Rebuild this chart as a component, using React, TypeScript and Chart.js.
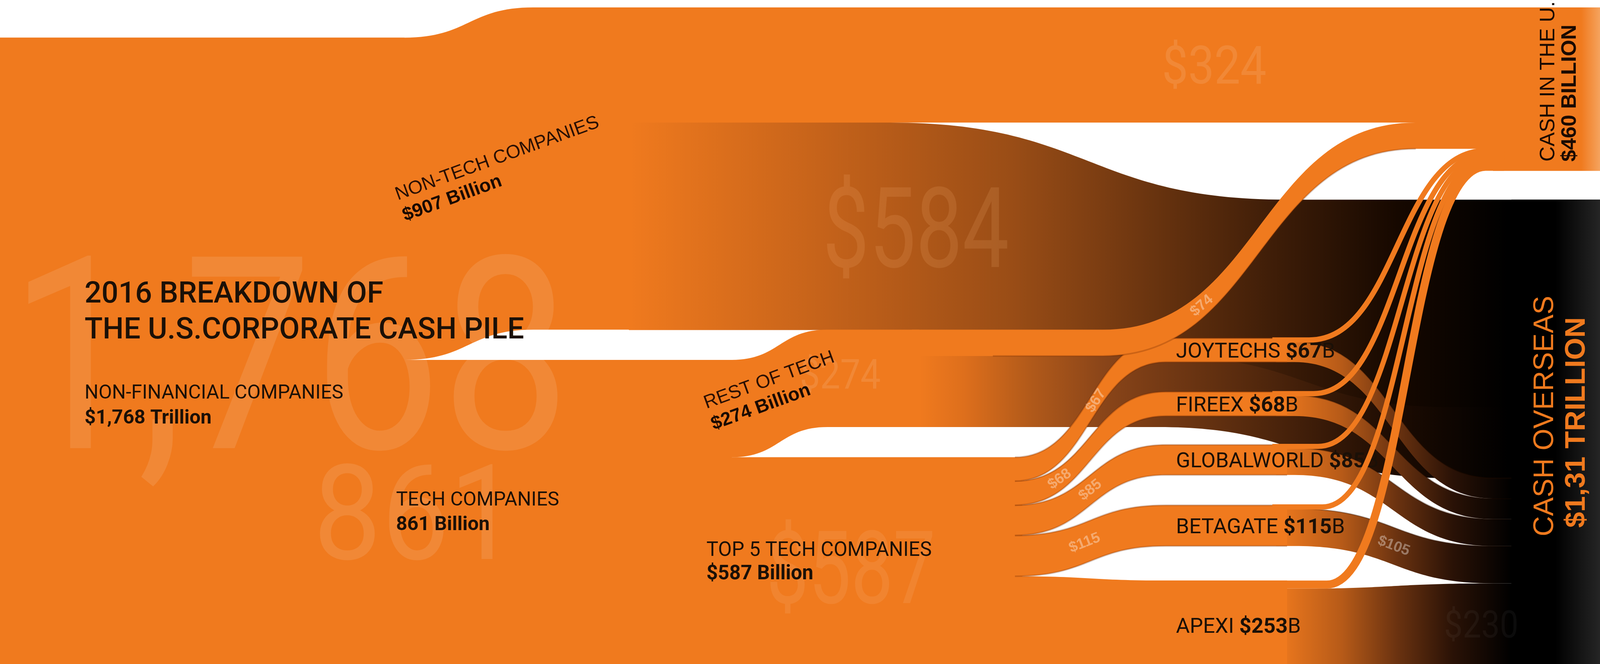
import React, { useEffect, useRef, useState } from "react";
import { Chart, registerables } from "chart.js";

Chart.register(...registerables);

// ---------------- DATA (billions of US$) ----------------
const titleLines = ["2016 BREAKDOWN OF", "THE U.S.CORPORATE CASH PILE"];
const rootName = "NON-FINANCIAL COMPANIES";
const rootValue = 1768;
const rootLabel = "$1,768 Trillion";
const rootBigLabel = "1,768";
const sectorNames = ["NON-TECH COMPANIES", "TECH COMPANIES"];
const sectorValues = [907, 861];
const sectorLabels = ["$907 Billion", "861 Billion"];
const sectorBigLabels = ["$584", "861"];
const nonTechFlows = [324, 584]; // to U.S., to overseas
const nonTechFlowLabels = ["$324", "$584"];
const techGroupNames = ["REST OF TECH", "TOP 5 TECH COMPANIES"];
const techGroupValues = [274, 587];
const techGroupLabels = ["$274 Billion", "$587 Billion"];
const techGroupBigLabels = ["$274", "$587"];
const restOfTechFlows = [74, 200]; // to U.S., to overseas
const restOfTechFlowLabels = ["$74", "$200"];
const companyNames = ["JOYTECHS", "FIREEX", "GLOBALWORLD", "BETAGATE", "APEXI"];
const companyCash = [67, 68, 85, 115, 253];
const companyCashLabels = ["$67", "$68", "$85", "$115", "$253"];
const companyToUS = [10, 10, 9, 10, 23];
const companyToOverseas = [57, 58, 76, 105, 230];
const companyOverseasLabels = ["", "", "", "$105", "$230"];
const destinationNames = ["CASH IN THE U.S.", "CASH OVERSEAS"];
const destinationValues = [460, 1310];
const destinationLabels = ["$460 BILLION", "$1,31 TRILLION"];

// ---------------- LAYOUT (not data) ----------------
const W = 4351;
const H = 1701;
const Y_MIN = -21;
const Y_MAX = 1848;
const ROOT_OFFSET = 85;
const ROT_LIFT = 85;
const COMPANY_FIRST_TOP = 931;
const COMPANY_GAPS = [0, 84, 81, 85, 97];
const DEST_GAP = 81;
const XL = {
  rootEnd: 1100,
  ntShiftEnd: 1450,
  ntSplit: 1710,
  ovDropStart: 2420,
  ovDropEnd: 3500,
  rotLiftStart: 1990,
  rotLiftEnd: 2250,
  rotSplit: 2500,
  r74Start: 3000,
  r74End: 3850,
  r200Start: 3150,
  r200End: 3950,
  fanStart: 2760,
  fanEnd: 3170,
  compSplit: 3500,
  usStart: 3560,
  usEnd: 4040,
  ovStart: 3520,
  ovEnd: 4060,
  destX: 4060,
  ovNodeX: 4110,
};

const OR = "#F07A1E";
const DARK = "#1b1007";
const EDGE = "rgba(110,40,0,0.28)";
const SANS = "Roboto, 'Liberation Sans', sans-serif";
const ARIAL = "'Liberation Sans', Arial, sans-serif";

type KF = [number, number];

function cum(arr: number[]) {
  const out: number[] = [];
  let s = 0;
  for (const v of arr) {
    out.push(s);
    s += v;
  }
  return out;
}

function geometry() {
  const ntLeft = ROOT_OFFSET;
  const techLeft = ROOT_OFFSET + sectorValues[0];
  const rotTop = techLeft - ROT_LIFT;
  const top5Top = techLeft + techGroupValues[0];
  const usTop = 0;
  const ovTop = usTop + destinationValues[0] + DEST_GAP;
  const usCompanyStart = usTop + nonTechFlows[0] + restOfTechFlows[0];
  const ovCompanyStart = ovTop + nonTechFlows[1] + restOfTechFlows[1];
  const tops: number[] = [];
  companyCash.forEach((v, i) => {
    if (i === 0) tops.push(COMPANY_FIRST_TOP);
    else tops.push(tops[i - 1] + companyCash[i - 1] + COMPANY_GAPS[i]);
  });
  const fanSrc = cum(companyCash).map((c) => top5Top + c);
  const usSlot = cum(companyToUS).map((c) => usCompanyStart + c);
  const ovSlot = cum(companyToOverseas).map((c) => ovCompanyStart + c);
  return { ntLeft, techLeft, rotTop, top5Top, usTop, ovTop, tops, fanSrc, usSlot, ovSlot };
}

function segTo(ctx: any, x0: number, y0: number, x1: number, y1: number) {
  if (Math.abs(y1 - y0) < 0.01) ctx.lineTo(x1, y1);
  else {
    const xm = (x0 + x1) / 2;
    ctx.bezierCurveTo(xm, y0, xm, y1, x1, y1);
  }
}

function tracePath(ctx: any, xs: any, ys: any, kfs: KF[], thick: number) {
  const X = (x: number) => xs.getPixelForValue(x);
  const Y = (v: number) => ys.getPixelForValue(v);
  ctx.beginPath();
  ctx.moveTo(X(kfs[0][0]), Y(kfs[0][1]));
  for (let i = 1; i < kfs.length; i++)
    segTo(ctx, X(kfs[i - 1][0]), Y(kfs[i - 1][1]), X(kfs[i][0]), Y(kfs[i][1]));
  const n = kfs.length - 1;
  ctx.lineTo(X(kfs[n][0]), Y(kfs[n][1] + thick));
  for (let i = n; i > 0; i--)
    segTo(ctx, X(kfs[i][0]), Y(kfs[i][1] + thick), X(kfs[i - 1][0]), Y(kfs[i - 1][1] + thick));
  ctx.closePath();
}

function fillBand(ctx: any, xs: any, ys: any, kfs: KF[], thick: number, style: any) {
  ctx.save();
  tracePath(ctx, xs, ys, kfs, thick);
  ctx.fillStyle = style;
  ctx.fill();
  ctx.restore();
}

function strokeCurve(ctx: any, xs: any, ys: any, kfs: KF[], off: number, width: number, color: string) {
  const X = (x: number) => xs.getPixelForValue(x);
  const Y = (v: number) => ys.getPixelForValue(v);
  ctx.save();
  ctx.beginPath();
  ctx.moveTo(X(kfs[0][0]), Y(kfs[0][1] + off));
  for (let i = 1; i < kfs.length; i++)
    segTo(ctx, X(kfs[i - 1][0]), Y(kfs[i - 1][1] + off), X(kfs[i][0]), Y(kfs[i][1] + off));
  ctx.lineWidth = width;
  ctx.strokeStyle = color;
  ctx.lineCap = "butt";
  ctx.stroke();
  ctx.restore();
}

function edgedBand(ctx: any, xs: any, ys: any, kfs: KF[], thick: number, style: any) {
  fillBand(ctx, xs, ys, kfs, thick, style);
  strokeCurve(ctx, xs, ys, kfs, 0, 4, EDGE);
  strokeCurve(ctx, xs, ys, kfs, thick, 4, EDGE);
}

function segPoint(xs: any, ys: any, a: KF, b: KF, off: number, t: number) {
  const x0 = xs.getPixelForValue(a[0]);
  const y0 = ys.getPixelForValue(a[1] + off);
  const x1 = xs.getPixelForValue(b[0]);
  const y1 = ys.getPixelForValue(b[1] + off);
  const xm = (x0 + x1) / 2;
  const mt = 1 - t;
  const x = mt * mt * mt * x0 + 3 * mt * mt * t * xm + 3 * mt * t * t * xm + t * t * t * x1;
  const y = mt * mt * mt * y0 + 3 * mt * mt * t * y0 + 3 * mt * t * t * y1 + t * t * t * y1;
  const dx = 3 * mt * mt * (xm - x0) + 3 * t * t * (x1 - xm);
  const dy = 6 * mt * t * (y1 - y0);
  return { x, y, angle: Math.atan2(dy, dx) };
}

function hGrad(ctx: any, xs: any, stops: [number, string][]) {
  const x0 = xs.getPixelForValue(stops[0][0]);
  const x1 = xs.getPixelForValue(stops[stops.length - 1][0]);
  const g = ctx.createLinearGradient(x0, 0, x1, 0);
  for (const [x, c] of stops) g.addColorStop(Math.min(1, Math.max(0, (xs.getPixelForValue(x) - x0) / (x1 - x0))), c);
  return g;
}

const sankeyPlugin = {
  id: "cashSankey",
  beforeDatasetsDraw(chart: any) {
    const ctx = chart.ctx;
    const xs = chart.scales.x;
    const ys = chart.scales.y;
    const g = geometry();
    const Y = (v: number) => ys.getPixelForValue(v);
    const PX = (x: number) => xs.getPixelForValue(x);
    const PY = (y: number) => (y * chart.height) / H;
    const sx = chart.width / W;

    const text = (s: string, x: number, y: number, font: string, color: string, angle = 0, align = "left", baseline = "alphabetic") => {
      ctx.save();
      ctx.translate(x, y);
      if (angle) ctx.rotate(angle);
      ctx.font = font;
      ctx.fillStyle = color;
      ctx.textAlign = align;
      ctx.textBaseline = baseline;
      ctx.fillText(s, 0, 0);
      ctx.restore();
    };
    const fitText = (s: string, x: number, y: number, font: string, color: string, width: number) => {
      ctx.save();
      ctx.font = font;
      const m = ctx.measureText(s).width || 1;
      ctx.translate(PX(x), PY(y));
      ctx.scale((width * sx) / m, 1);
      ctx.fillStyle = color;
      ctx.textAlign = "left";
      ctx.textBaseline = "alphabetic";
      ctx.fillText(s, 0, 0);
      ctx.restore();
    };

    const grad584 = hGrad(ctx, xs, [
      [XL.ntSplit, OR], [2250, "#C4621A"], [2750, "#9A4D16"], [3000, "#7B3D12"],
      [3450, "#401E08"], [3800, "#160800"], [4100, "#000000"], [W, "#000000"],
    ]);
    const grad200 = hGrad(ctx, xs, [
      [XL.rotSplit, OR], [2620, "#DE6F1C"], [2800, "#B25A1A"], [3000, "#8A4519"],
      [3400, "#55290D"], [3800, "#1c0b02"], [4100, "#000000"], [W, "#000000"],
    ]);
    const gradComp = hGrad(ctx, xs, [
      [3470, OR], [3650, "#B65A18"], [3800, "#6A3210"], [3950, "#2A1206"], [4110, "#000000"], [W, "#000000"],
    ]);

    ctx.save();
    ctx.fillStyle = "#ffffff";
    ctx.fillRect(0, 0, chart.width, chart.height);
    ctx.restore();

    // Non-tech -> overseas ($584)
    fillBand(ctx, xs, ys, [[XL.ntSplit, nonTechFlows[0]], [XL.ovDropStart, nonTechFlows[0]], [XL.ovDropEnd, g.ovTop], [W, g.ovTop]], nonTechFlows[1], grad584);
    // Rest of tech -> overseas ($200)
    fillBand(ctx, xs, ys, [[XL.rotSplit - 20, g.rotTop + restOfTechFlows[0]], [XL.r200Start, g.rotTop + restOfTechFlows[0]], [XL.r200End, g.ovTop + nonTechFlows[1]], [W, g.ovTop + nonTechFlows[1]]], restOfTechFlows[1], grad200);
    // Whole non-financial block (base, avoids seams)
    fillBand(ctx, xs, ys, [[0, g.ntLeft], [XL.rootEnd, g.ntLeft]], rootValue, OR);
    fillBand(ctx, xs, ys, [[0, g.techLeft], [XL.rotLiftStart, g.techLeft]], sectorValues[1], OR);
    // Non-tech block
    fillBand(ctx, xs, ys, [[0, g.ntLeft], [XL.rootEnd, g.ntLeft], [XL.ntShiftEnd, 0], [XL.ntSplit + 10, 0]], sectorValues[0], OR);
    // Non-tech -> U.S. ($324)
    fillBand(ctx, xs, ys, [[XL.ntSplit, 0], [W, 0]], nonTechFlows[0], OR);
    // Rest of tech
    fillBand(ctx, xs, ys, [[XL.rotLiftStart - 10, g.techLeft], [XL.rotLiftStart, g.techLeft], [XL.rotLiftEnd, g.rotTop], [XL.rotSplit, g.rotTop]], techGroupValues[0], OR);
    // Top 5 tech
    fillBand(ctx, xs, ys, [[XL.rotLiftStart - 10, g.top5Top], [XL.fanStart + 20, g.top5Top]], techGroupValues[1], OR);

    // Company -> overseas
    for (let i = companyNames.length - 1; i >= 0; i--) {
      const y0 = g.tops[i] + companyToUS[i];
      const kf: KF[] = [[XL.compSplit - 30, y0], [XL.ovStart, y0], [XL.ovEnd, g.ovSlot[i]], [W, g.ovSlot[i]]];
      fillBand(ctx, xs, ys, kf, companyToOverseas[i], gradComp);
      if (i < 4) strokeCurve(ctx, xs, ys, kf, 0, 3, "rgba(40,15,0,0.35)");
    }
    // Top 5 -> companies
    for (let i = companyNames.length - 1; i >= 0; i--) {
      const kf: KF[] = [[XL.fanStart, g.fanSrc[i]], [XL.fanEnd, g.tops[i]], [XL.compSplit, g.tops[i]]];
      if (i < 4) edgedBand(ctx, xs, ys, kf, companyCash[i], OR);
      else fillBand(ctx, xs, ys, kf, companyCash[i], OR);
    }
    // Rest of tech -> U.S. ($74)
    {
      const kf: KF[] = [[XL.rotSplit - 20, g.rotTop], [XL.r74Start, g.rotTop], [XL.r74End, nonTechFlows[0]], [XL.destX + 20, nonTechFlows[0]]];
      fillBand(ctx, xs, ys, kf, restOfTechFlows[0], OR);
      const kf2: KF[] = [[XL.r74Start - 300, g.rotTop], [XL.r74Start, g.rotTop], [XL.r74End, nonTechFlows[0]]];
      strokeCurve(ctx, xs, ys, kf2, restOfTechFlows[0], 4, EDGE);
    }

    // Destination nodes
    fillBand(ctx, xs, ys, [[XL.destX, g.usTop], [W, g.usTop]], destinationValues[0], hGrad(ctx, xs, [[XL.destX, OR], [4300, OR], [W, "#F5A35E"]]));
    fillBand(ctx, xs, ys, [[XL.ovNodeX, g.ovTop], [W, g.ovTop]], destinationValues[1], hGrad(ctx, xs, [[XL.ovNodeX, "#000000"], [4230, "#000000"], [W, "#252525"]]));

    // Faint big numbers
    const faint = "rgba(255,255,255,0.11)";
    fitText(rootBigLabel, 25, 1148, `400 690px ${SANS}`, faint, 1525);
    fitText(sectorBigLabels[1], 852, 1432, `400 340px ${SANS}`, faint, 555);
    fitText(sectorBigLabels[0], 2237, 684, `400 287px ${SANS}`, "rgba(255,190,130,0.15)", 507);
    fitText(nonTechFlowLabels[0], 3160, 214, `400 136px ${SANS}`, faint, 284);
    fitText(techGroupBigLabels[0], 2175, 995, `400 105px ${SANS}`, faint, 220);
    fitText(techGroupBigLabels[1], 2084, 1545, `400 260px ${SANS}`, "rgba(255,255,255,0.08)", 460);
    {
      const yc = Y(g.ovSlot[4] + companyToOverseas[4] / 2);
      fitText(companyOverseasLabels[4], 3927, (yc + 34) * (H / chart.height), `400 97px ${SANS}`, "rgba(255,255,255,0.045)", 202);
    }

    // Title and left labels
    text(titleLines[0], PX(230), PY(775), `500 76px ${SANS}`, DARK);
    text(titleLines[1], PX(230), PY(867), `500 76px ${SANS}`, DARK);
    text(rootName, PX(230), PY(1021), `400 50px ${SANS}`, DARK);
    text(rootLabel, PX(230), PY(1085), `700 50px ${SANS}`, DARK);
    text(sectorNames[1], PX(1077), PY(1295), `400 50px ${SANS}`, DARK);
    text(sectorLabels[1], PX(1077), PY(1358), `700 50px ${SANS}`, DARK);
    text(techGroupNames[1], PX(1921), PY(1424), `400 51px ${SANS}`, DARK);
    text(techGroupLabels[1], PX(1921), PY(1484), `700 51px ${SANS}`, DARK);

    const rot = (-20 * Math.PI) / 180;
    const off = (d: number) => [d * Math.sin(-rot), d * Math.cos(rot)];
    text(sectorNames[0], PX(1082), PY(513), `400 48px ${ARIAL}`, "#2a1004", rot);
    {
      const [dx, dy] = off(57);
      text(sectorLabels[0], PX(1082 + dx), PY(513 + dy), `700 48px ${ARIAL}`, "#1a0a02", rot);
    }
    text(techGroupNames[0], PX(1921), PY(1047), `400 48px ${ARIAL}`, "#2a1004", rot);
    {
      const [dx, dy] = off(58);
      text(techGroupLabels[0], PX(1921 + dx), PY(1047 + dy), `700 48px ${ARIAL}`, "#1a0a02", rot);
    }

    // Company labels
    companyNames.forEach((name, i) => {
      const yb = Y(g.tops[i] + companyCash[i] / 2) + 19;
      let x = PX(3198);
      ctx.save();
      ctx.textBaseline = "alphabetic";
      ctx.textAlign = "left";
      ctx.fillStyle = DARK;
      ctx.font = `400 54px ${SANS}`;
      ctx.fillText(name + " ", x, yb);
      x += ctx.measureText(name + " ").width;
      ctx.font = `700 54px ${SANS}`;
      ctx.fillText(companyCashLabels[i], x, yb);
      x += ctx.measureText(companyCashLabels[i]).width;
      ctx.font = `400 54px ${SANS}`;
      ctx.fillText("B", x, yb);
      ctx.restore();
    });

    // Company -> U.S. ribbons
    for (let i = companyNames.length - 1; i >= 0; i--) {
      const th = Math.abs(Y(companyToUS[i]) - Y(0));
      const kf: KF[] = [[XL.compSplit - 40, g.tops[i]], [XL.usStart + i * 12, g.tops[i]], [XL.usEnd, g.usSlot[i]], [XL.destX + 30, g.usSlot[i]]];
      const X = (x: number) => xs.getPixelForValue(x);
      const half = companyToUS[i] / 2;
      ctx.save();
      ctx.beginPath();
      ctx.moveTo(X(kf[0][0]), Y(kf[0][1] + half));
      for (let k = 1; k < kf.length; k++)
        segTo(ctx, X(kf[k - 1][0]), Y(kf[k - 1][1] + half), X(kf[k][0]), Y(kf[k][1] + half));
      ctx.lineWidth = th * 0.6 + 8;
      ctx.strokeStyle = OR;
      ctx.stroke();
      ctx.restore();
    }

    // Small flow labels
    const small = `700 38px ${ARIAL}`;
    const sc = "rgba(255,255,255,0.36)";
    const put = (s: string, p: any) => text(s, p.x, p.y, small, sc, p.angle, "center", "middle");
    put(restOfTechFlowLabels[0], segPoint(xs, ys, [XL.r74Start, g.rotTop], [XL.r74End, nonTechFlows[0]], restOfTechFlows[0] / 2, 0.27));
    const fanT = [0.55, 0.25, 0.5, 0.45];
    for (let i = 0; i < 4; i++) {
      put(companyCashLabels[i], segPoint(xs, ys, [XL.fanStart, g.fanSrc[i]], [XL.fanEnd, g.tops[i]], companyCash[i] / 2, fanT[i]));
    }
    put(companyOverseasLabels[3], segPoint(xs, ys, [XL.ovStart, g.tops[3] + companyToUS[3]], [XL.ovEnd, g.ovSlot[3]], companyToOverseas[3] / 2, 0.5));

    // Right-hand destination labels
    text(destinationNames[0], PX(4227), PY(414), `400 54px ${ARIAL}`, "#1a0a02", -Math.PI / 2);
    text(destinationLabels[0], PX(4285), PY(414), `700 54px ${ARIAL}`, "#1a0a02", -Math.PI / 2);
    text(destinationNames[1], PX(4224), PY(1374), `400 72px ${ARIAL}`, OR, -Math.PI / 2);
    text(destinationLabels[1], PX(4310), PY(1352), `700 73px ${ARIAL}`, OR, -Math.PI / 2);
  },
};

export default function App() {
  const ref = useRef<HTMLCanvasElement | null>(null);
  const [size] = useState(() => {
    const vw = Math.min(window.innerWidth || W, document.documentElement.clientWidth || W, W);
    const vh = Math.min(window.innerHeight || H, H);
    return { w: vw, h: vh };
  });
  useEffect(() => {
    const canvas = ref.current;
    if (!canvas) return;
    const g = geometry();
    const nodePoints = companyNames.map((_, i) => ({ x: XL.fanEnd, y: g.tops[i] + companyCash[i] / 2 }));
    const chart = new Chart(canvas, {
      type: "scatter",
      data: {
        datasets: [
          { label: "companies", data: nodePoints, pointRadius: 0, pointHoverRadius: 0, showLine: false },
          { label: "root", data: [{ x: 0, y: ROOT_OFFSET + rootValue / 2 }], pointRadius: 0, pointHoverRadius: 0 },
        ],
      },
      options: {
        animation: false,
        responsive: false,
        devicePixelRatio: 1,
        events: [],
        layout: { padding: 0 },
        plugins: { legend: { display: false }, tooltip: { enabled: false }, title: { display: false } },
        scales: {
          x: { type: "linear", min: 0, max: W, display: false },
          y: { type: "linear", min: Y_MIN, max: Y_MAX, reverse: true, display: false },
        },
      },
      plugins: [sankeyPlugin],
    } as any);
    return () => chart.destroy();
  }, []);
  return (
    <div style={{ position: "fixed", left: 0, top: 0, width: size.w, height: size.h, background: "#ffffff", overflow: "hidden" }}>
      <canvas ref={ref} width={size.w} height={size.h} style={{ display: "block", width: size.w, height: size.h }} />
    </div>
  );
}
